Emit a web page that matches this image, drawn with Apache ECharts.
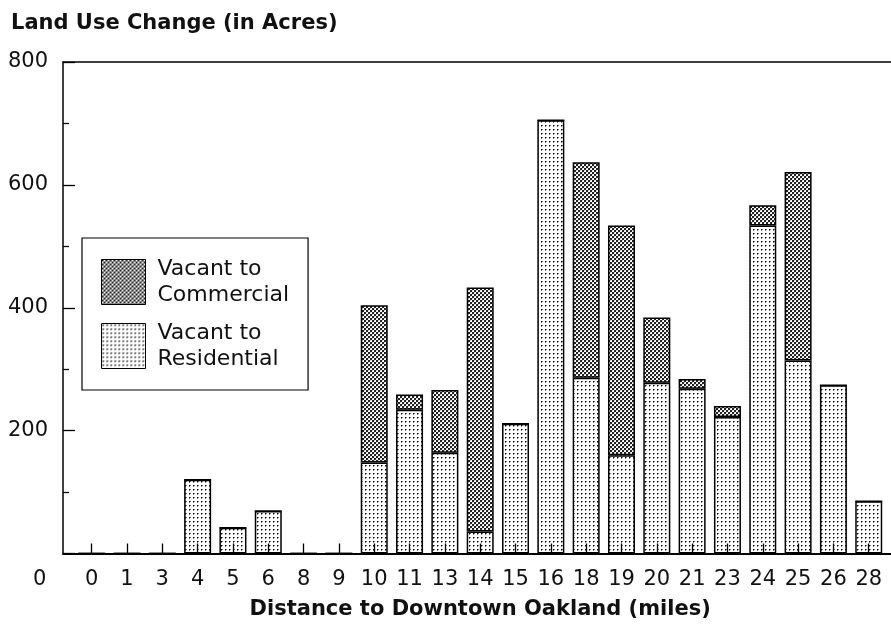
<!DOCTYPE html>
<html>
<head>
<meta charset="utf-8">
<script src="https://cdn.jsdelivr.net/npm/echarts@6/dist/echarts.min.js"></script>
<style>
html,body{margin:0;padding:0;background:#fff;}
#chart{width:891px;height:624px;}
</style>
</head>
<body>
<div id="chart"></div>
<script>
var miles = ['0','1','3','4','5','6','8','9','10','11','13','14','15','16','18','19','20','21','23','24','25','26','28'];
var residential = [0,0,0,120,42,69,0,0,148,234,164,36,211,705,286,160,278,268,222,534,314,274,85];
var commercial  = [0,0,0,0,0,0,0,0,256,25,102,397,0,0,351,374,106,16,18,33,307,0,0];
var yTicks = [0,800,200];

var FONT = '"DejaVu Sans", "Liberation Sans", Arial, sans-serif';

// little tiles used as pattern fills
function tile(size, draw){
  var c = document.createElement('canvas');
  c.width = size; c.height = size;
  var g = c.getContext('2d');
  g.fillStyle = '#fff';
  g.fillRect(0,0,size,size);
  draw(g);
  return c;
}
var dots = tile(4, function(g){
  g.fillStyle = '#000'; g.fillRect(1,1,1,1);
  g.fillStyle = '#777'; g.fillRect(2,1,1,1); g.fillRect(1,2,1,1);
});
var checker = tile(4, function(g){
  g.fillStyle = '#222'; g.fillRect(0,0,2,2); g.fillRect(2,2,2,2);
  g.fillStyle = '#ccc'; g.fillRect(2,0,1,1); g.fillRect(0,2,1,1);
});

var chart = echarts.init(document.getElementById('chart'));

chart.setOption({
  animation:false,
  textStyle:{fontFamily:FONT},
  title:{
    text:'Land Use Change (in Acres)',
    left:11, top:13, padding:0,
    textStyle:{fontFamily:FONT, fontSize:21, fontWeight:'bold', color:'#111'}
  },
  legend:{
    orient:'vertical',
    left:82, top:238,
    padding:[18,19,18,19],
    borderColor:'#000', borderWidth:1.2,
    itemWidth:44, itemHeight:45, itemGap:12,
    icon:'rect',
    data:['Vacant to Commercial','Vacant to Residential'],
    itemStyle:{borderColor:'#000', borderWidth:1},
    formatter:function(n){ return n.replace(' to ', ' to\n'); },
    textStyle:{fontFamily:FONT, fontSize:22, lineHeight:26, color:'#111', padding:[0,0,0,7]}
  },
  grid:[
    {left:63, right:0, top:62, bottom:70.5, outerBoundsMode:'none'},
    {left:74, right:4.6, top:62, bottom:70.5, outerBoundsMode:'none'}
  ],
  xAxis:[
    {type:'value', gridIndex:0, min:0, max:1, position:'bottom', z:10,
     axisLine:{show:true, lineStyle:{color:'#000', width:2}},
     axisTick:{show:false}, axisLabel:{show:false}, splitLine:{show:false}},
    {type:'value', gridIndex:0, min:0, max:1, position:'top',
     axisLine:{show:true, lineStyle:{color:'#000', width:1.5}},
     axisTick:{show:false}, axisLabel:{show:false}, splitLine:{show:false}},
    {type:'category', gridIndex:1, data:miles, z:10,
     axisLine:{show:false},
     axisTick:{show:true, inside:true, alignWithLabel:true, length:10, lineStyle:{color:'#000', width:1.3}},
     axisLabel:{margin:16, color:'#111', fontFamily:FONT, fontSize:21},
     name:'Distance to Downtown Oakland (miles)',
     nameLocation:'middle', nameGap:46,
     nameTextStyle:{fontFamily:FONT, fontSize:21, fontWeight:'bold', color:'#111'}}
  ],
  yAxis:[
    {type:'value', gridIndex:0, min:yTicks[0], max:yTicks[1], interval:yTicks[2], z:10,
     axisLine:{show:true, lineStyle:{color:'#000', width:1.5}},
     axisTick:{show:true, inside:true, length:12, lineStyle:{color:'#000', width:1.3}},
     minorTick:{show:true, splitNumber:2, length:6, lineStyle:{color:'#000', width:1.3}},
     axisLabel:{margin:15, color:'#111', fontFamily:FONT, fontSize:21,
       formatter:function(v){ return v === 0 ? '' : v; }},
     splitLine:{show:false}},
    {type:'value', gridIndex:1, min:yTicks[0], max:yTicks[1], show:false}
  ],
  graphic:[
    {type:'text', left:33, top:569,
     style:{text:'0', fontFamily:FONT, fontSize:21, fill:'#111'}}
  ],
  series:[
    {name:'Vacant to Residential', type:'bar', stack:'land',
     xAxisIndex:2, yAxisIndex:1, barWidth:27, data:residential,
     itemStyle:{color:{image:dots, repeat:'repeat'}, borderColor:'#000', borderWidth:1.5}},
    {name:'Vacant to Commercial', type:'bar', stack:'land',
     xAxisIndex:2, yAxisIndex:1, barWidth:27, data:commercial,
     itemStyle:{color:{image:checker, repeat:'repeat'}, borderColor:'#000', borderWidth:1.5}}
  ]
});
</script>
</body>
</html>
